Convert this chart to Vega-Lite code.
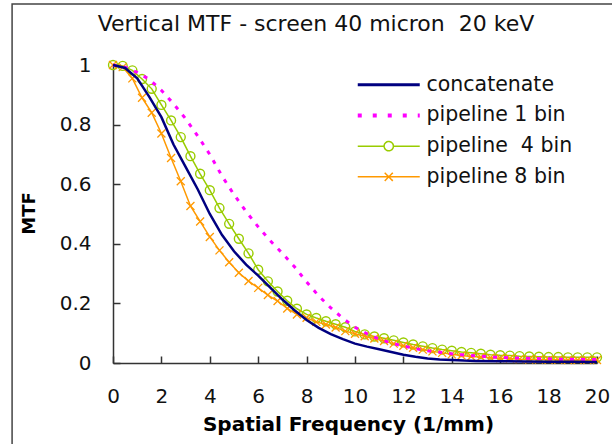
{
  "$schema": "https://vega.github.io/schema/vega-lite/v6.json",
  "width": 484,
  "height": 298,
  "autosize": {"type": "none"},
  "padding": {"left": 113, "top": 65, "right": 15, "bottom": 81},
  "background": "white",
  "config": {
    "view": {"stroke": null},
    "font": "DejaVu Sans",
    "axis": {
      "grid": false,
      "domainColor": "#333",
      "domainWidth": 1.5,
      "tickColor": "#333",
      "tickWidth": 1.5,
      "tickSize": -7,
      "labelFont": "DejaVu Sans",
      "labelFontSize": 20,
      "labelColor": "#111",
      "titleFont": "DejaVu Sans",
      "titleFontSize": 20,
      "titleFontWeight": "bold",
      "titleColor": "#000"
    }
  },
  "title": {
    "text": "Vertical MTF - screen 40 micron \u00a020 keV",
    "font": "DejaVu Sans",
    "fontSize": 22,
    "fontWeight": "normal",
    "color": "#111",
    "anchor": "middle",
    "frame": "group",
    "baseline": "alphabetic",
    "offset": 0,
    "dy": 50,
    "dx": -39
  },
  "data": {
    "values": [
      {"s": "concatenate", "x": 0, "y": 1.0},
      {"s": "concatenate", "x": 0.5, "y": 0.99},
      {"s": "concatenate", "x": 1.0, "y": 0.955},
      {"s": "concatenate", "x": 1.5, "y": 0.893},
      {"s": "concatenate", "x": 2.0, "y": 0.825},
      {"s": "concatenate", "x": 2.5, "y": 0.733},
      {"s": "concatenate", "x": 3.0, "y": 0.658},
      {"s": "concatenate", "x": 3.5, "y": 0.583},
      {"s": "concatenate", "x": 4.0, "y": 0.5},
      {"s": "concatenate", "x": 4.5, "y": 0.43},
      {"s": "concatenate", "x": 5.0, "y": 0.375},
      {"s": "concatenate", "x": 5.5, "y": 0.33},
      {"s": "concatenate", "x": 6.0, "y": 0.293},
      {"s": "concatenate", "x": 6.5, "y": 0.253},
      {"s": "concatenate", "x": 7.0, "y": 0.213},
      {"s": "concatenate", "x": 7.5, "y": 0.177},
      {"s": "concatenate", "x": 8.0, "y": 0.144},
      {"s": "concatenate", "x": 8.5, "y": 0.118},
      {"s": "concatenate", "x": 9.0, "y": 0.097},
      {"s": "concatenate", "x": 9.5, "y": 0.08},
      {"s": "concatenate", "x": 10.0, "y": 0.065},
      {"s": "concatenate", "x": 10.5, "y": 0.055},
      {"s": "concatenate", "x": 11.0, "y": 0.046},
      {"s": "concatenate", "x": 11.5, "y": 0.037},
      {"s": "concatenate", "x": 12.0, "y": 0.028},
      {"s": "concatenate", "x": 12.5, "y": 0.021},
      {"s": "concatenate", "x": 13.0, "y": 0.015},
      {"s": "concatenate", "x": 13.5, "y": 0.012},
      {"s": "concatenate", "x": 14.0, "y": 0.01},
      {"s": "concatenate", "x": 14.5, "y": 0.008},
      {"s": "concatenate", "x": 15.0, "y": 0.007},
      {"s": "concatenate", "x": 16.0, "y": 0.006},
      {"s": "concatenate", "x": 17.0, "y": 0.005},
      {"s": "concatenate", "x": 18.0, "y": 0.004},
      {"s": "concatenate", "x": 19.0, "y": 0.004},
      {"s": "concatenate", "x": 20.0, "y": 0.003},
      {"s": "pipeline 1 bin", "x": 0, "y": 1.0},
      {"s": "pipeline 1 bin", "x": 0.5, "y": 0.993},
      {"s": "pipeline 1 bin", "x": 1.0, "y": 0.975},
      {"s": "pipeline 1 bin", "x": 1.5, "y": 0.952},
      {"s": "pipeline 1 bin", "x": 2.0, "y": 0.915},
      {"s": "pipeline 1 bin", "x": 2.5, "y": 0.87},
      {"s": "pipeline 1 bin", "x": 3.0, "y": 0.82},
      {"s": "pipeline 1 bin", "x": 3.5, "y": 0.762},
      {"s": "pipeline 1 bin", "x": 4.0, "y": 0.7},
      {"s": "pipeline 1 bin", "x": 4.5, "y": 0.628},
      {"s": "pipeline 1 bin", "x": 5.0, "y": 0.565},
      {"s": "pipeline 1 bin", "x": 5.5, "y": 0.508},
      {"s": "pipeline 1 bin", "x": 6.0, "y": 0.457},
      {"s": "pipeline 1 bin", "x": 6.5, "y": 0.41},
      {"s": "pipeline 1 bin", "x": 7.0, "y": 0.368},
      {"s": "pipeline 1 bin", "x": 7.5, "y": 0.323},
      {"s": "pipeline 1 bin", "x": 8.0, "y": 0.272},
      {"s": "pipeline 1 bin", "x": 8.5, "y": 0.225},
      {"s": "pipeline 1 bin", "x": 9.0, "y": 0.185},
      {"s": "pipeline 1 bin", "x": 9.5, "y": 0.15},
      {"s": "pipeline 1 bin", "x": 10.0, "y": 0.12},
      {"s": "pipeline 1 bin", "x": 10.5, "y": 0.098},
      {"s": "pipeline 1 bin", "x": 11.0, "y": 0.08},
      {"s": "pipeline 1 bin", "x": 11.5, "y": 0.067},
      {"s": "pipeline 1 bin", "x": 12.0, "y": 0.057},
      {"s": "pipeline 1 bin", "x": 12.5, "y": 0.048},
      {"s": "pipeline 1 bin", "x": 13.0, "y": 0.041},
      {"s": "pipeline 1 bin", "x": 13.5, "y": 0.036},
      {"s": "pipeline 1 bin", "x": 14.0, "y": 0.031},
      {"s": "pipeline 1 bin", "x": 14.5, "y": 0.027},
      {"s": "pipeline 1 bin", "x": 15.0, "y": 0.024},
      {"s": "pipeline 1 bin", "x": 15.5, "y": 0.021},
      {"s": "pipeline 1 bin", "x": 16.0, "y": 0.019},
      {"s": "pipeline 1 bin", "x": 16.5, "y": 0.017},
      {"s": "pipeline 1 bin", "x": 17.0, "y": 0.016},
      {"s": "pipeline 1 bin", "x": 17.5, "y": 0.015},
      {"s": "pipeline 1 bin", "x": 18.0, "y": 0.014},
      {"s": "pipeline 1 bin", "x": 18.5, "y": 0.013},
      {"s": "pipeline 1 bin", "x": 19.0, "y": 0.013},
      {"s": "pipeline 1 bin", "x": 19.5, "y": 0.012},
      {"s": "pipeline 1 bin", "x": 20.0, "y": 0.012},
      {"s": "pipeline  4 bin", "x": 0, "y": 1.0},
      {"s": "pipeline  4 bin", "x": 0.4, "y": 0.997},
      {"s": "pipeline  4 bin", "x": 0.8, "y": 0.982},
      {"s": "pipeline  4 bin", "x": 1.2, "y": 0.953},
      {"s": "pipeline  4 bin", "x": 1.6, "y": 0.92},
      {"s": "pipeline  4 bin", "x": 2.0, "y": 0.866},
      {"s": "pipeline  4 bin", "x": 2.4, "y": 0.814},
      {"s": "pipeline  4 bin", "x": 2.8, "y": 0.758},
      {"s": "pipeline  4 bin", "x": 3.2, "y": 0.694},
      {"s": "pipeline  4 bin", "x": 3.6, "y": 0.635},
      {"s": "pipeline  4 bin", "x": 4.0, "y": 0.58},
      {"s": "pipeline  4 bin", "x": 4.4, "y": 0.52},
      {"s": "pipeline  4 bin", "x": 4.8, "y": 0.467},
      {"s": "pipeline  4 bin", "x": 5.2, "y": 0.417},
      {"s": "pipeline  4 bin", "x": 5.6, "y": 0.368},
      {"s": "pipeline  4 bin", "x": 6.0, "y": 0.313},
      {"s": "pipeline  4 bin", "x": 6.4, "y": 0.274},
      {"s": "pipeline  4 bin", "x": 6.8, "y": 0.24},
      {"s": "pipeline  4 bin", "x": 7.2, "y": 0.209},
      {"s": "pipeline  4 bin", "x": 7.6, "y": 0.182},
      {"s": "pipeline  4 bin", "x": 8.0, "y": 0.163},
      {"s": "pipeline  4 bin", "x": 8.4, "y": 0.151},
      {"s": "pipeline  4 bin", "x": 8.8, "y": 0.14},
      {"s": "pipeline  4 bin", "x": 9.2, "y": 0.13},
      {"s": "pipeline  4 bin", "x": 9.6, "y": 0.12},
      {"s": "pipeline  4 bin", "x": 10.0, "y": 0.106},
      {"s": "pipeline  4 bin", "x": 10.4, "y": 0.096},
      {"s": "pipeline  4 bin", "x": 10.8, "y": 0.089},
      {"s": "pipeline  4 bin", "x": 11.2, "y": 0.083},
      {"s": "pipeline  4 bin", "x": 11.6, "y": 0.076},
      {"s": "pipeline  4 bin", "x": 12.0, "y": 0.069},
      {"s": "pipeline  4 bin", "x": 12.4, "y": 0.062},
      {"s": "pipeline  4 bin", "x": 12.8, "y": 0.056},
      {"s": "pipeline  4 bin", "x": 13.2, "y": 0.05},
      {"s": "pipeline  4 bin", "x": 13.6, "y": 0.045},
      {"s": "pipeline  4 bin", "x": 14.0, "y": 0.041},
      {"s": "pipeline  4 bin", "x": 14.4, "y": 0.037},
      {"s": "pipeline  4 bin", "x": 14.8, "y": 0.034},
      {"s": "pipeline  4 bin", "x": 15.2, "y": 0.031},
      {"s": "pipeline  4 bin", "x": 15.6, "y": 0.028},
      {"s": "pipeline  4 bin", "x": 16.0, "y": 0.026},
      {"s": "pipeline  4 bin", "x": 16.4, "y": 0.025},
      {"s": "pipeline  4 bin", "x": 16.8, "y": 0.023},
      {"s": "pipeline  4 bin", "x": 17.2, "y": 0.022},
      {"s": "pipeline  4 bin", "x": 17.6, "y": 0.021},
      {"s": "pipeline  4 bin", "x": 18.0, "y": 0.02},
      {"s": "pipeline  4 bin", "x": 18.4, "y": 0.02},
      {"s": "pipeline  4 bin", "x": 18.8, "y": 0.019},
      {"s": "pipeline  4 bin", "x": 19.2, "y": 0.019},
      {"s": "pipeline  4 bin", "x": 19.6, "y": 0.019},
      {"s": "pipeline  4 bin", "x": 20.0, "y": 0.019},
      {"s": "pipeline 8 bin", "x": 0, "y": 1.0},
      {"s": "pipeline 8 bin", "x": 0.4, "y": 0.993},
      {"s": "pipeline 8 bin", "x": 0.8, "y": 0.955},
      {"s": "pipeline 8 bin", "x": 1.2, "y": 0.89},
      {"s": "pipeline 8 bin", "x": 1.6, "y": 0.84},
      {"s": "pipeline 8 bin", "x": 2.0, "y": 0.77},
      {"s": "pipeline 8 bin", "x": 2.4, "y": 0.688},
      {"s": "pipeline 8 bin", "x": 2.8, "y": 0.61},
      {"s": "pipeline 8 bin", "x": 3.2, "y": 0.527},
      {"s": "pipeline 8 bin", "x": 3.6, "y": 0.475},
      {"s": "pipeline 8 bin", "x": 4.0, "y": 0.423},
      {"s": "pipeline 8 bin", "x": 4.4, "y": 0.378},
      {"s": "pipeline 8 bin", "x": 4.8, "y": 0.338},
      {"s": "pipeline 8 bin", "x": 5.2, "y": 0.303},
      {"s": "pipeline 8 bin", "x": 5.6, "y": 0.275},
      {"s": "pipeline 8 bin", "x": 6.0, "y": 0.252},
      {"s": "pipeline 8 bin", "x": 6.4, "y": 0.228},
      {"s": "pipeline 8 bin", "x": 6.8, "y": 0.208},
      {"s": "pipeline 8 bin", "x": 7.2, "y": 0.183},
      {"s": "pipeline 8 bin", "x": 7.6, "y": 0.163},
      {"s": "pipeline 8 bin", "x": 8.0, "y": 0.152},
      {"s": "pipeline 8 bin", "x": 8.4, "y": 0.138},
      {"s": "pipeline 8 bin", "x": 8.8, "y": 0.129},
      {"s": "pipeline 8 bin", "x": 9.2, "y": 0.119},
      {"s": "pipeline 8 bin", "x": 9.6, "y": 0.107},
      {"s": "pipeline 8 bin", "x": 10.0, "y": 0.098},
      {"s": "pipeline 8 bin", "x": 10.4, "y": 0.09},
      {"s": "pipeline 8 bin", "x": 10.8, "y": 0.082},
      {"s": "pipeline 8 bin", "x": 11.2, "y": 0.074},
      {"s": "pipeline 8 bin", "x": 11.6, "y": 0.065},
      {"s": "pipeline 8 bin", "x": 12.0, "y": 0.058},
      {"s": "pipeline 8 bin", "x": 12.4, "y": 0.051},
      {"s": "pipeline 8 bin", "x": 12.8, "y": 0.045},
      {"s": "pipeline 8 bin", "x": 13.2, "y": 0.039},
      {"s": "pipeline 8 bin", "x": 13.6, "y": 0.034},
      {"s": "pipeline 8 bin", "x": 14.0, "y": 0.029},
      {"s": "pipeline 8 bin", "x": 14.4, "y": 0.025},
      {"s": "pipeline 8 bin", "x": 14.8, "y": 0.022},
      {"s": "pipeline 8 bin", "x": 15.2, "y": 0.02},
      {"s": "pipeline 8 bin", "x": 15.6, "y": 0.018},
      {"s": "pipeline 8 bin", "x": 16.0, "y": 0.016},
      {"s": "pipeline 8 bin", "x": 16.4, "y": 0.015},
      {"s": "pipeline 8 bin", "x": 16.8, "y": 0.013},
      {"s": "pipeline 8 bin", "x": 17.2, "y": 0.012},
      {"s": "pipeline 8 bin", "x": 17.6, "y": 0.012},
      {"s": "pipeline 8 bin", "x": 18.0, "y": 0.011},
      {"s": "pipeline 8 bin", "x": 18.4, "y": 0.011},
      {"s": "pipeline 8 bin", "x": 18.8, "y": 0.01},
      {"s": "pipeline 8 bin", "x": 19.2, "y": 0.01},
      {"s": "pipeline 8 bin", "x": 19.6, "y": 0.01},
      {"s": "pipeline 8 bin", "x": 20.0, "y": 0.01}
    ]
  },
  "encoding": {
    "x": {
      "field": "x",
      "type": "quantitative",
      "scale": {"domain": [0, 20], "nice": false, "zero": false},
      "axis": {
        "title": "Spatial Frequency (1/mm)",
        "values": [0, 2, 4, 6, 8, 10, 12, 14, 16, 18, 20],
        "labelPadding": 30,
        "labelFlush": false,
        "titleFontSize": 20,
        "titleX": 235,
        "titleY": 61,
        "titleBaseline": "middle",
        "titleAlign": "center"
      }
    },
    "y": {
      "field": "y",
      "type": "quantitative",
      "scale": {"domain": [0, 1], "nice": false},
      "axis": {
        "title": "MTF",
        "values": [0, 0.2, 0.4, 0.6, 0.8, 1],
        "format": "~g",
        "labelPadding": 29,
        "labelFlush": false,
        "titleFontSize": 18,
        "titleAngle": -90,
        "titleX": -84,
        "titleY": 148,
        "titleBaseline": "middle",
        "titleAlign": "center"
      }
    },
    "color": {
      "field": "s",
      "type": "nominal",
      "scale": {
        "domain": ["concatenate", "pipeline 1 bin", "pipeline  4 bin", "pipeline 8 bin"],
        "range": ["#000080", "#FF00FF", "#99CC00", "#FF9900"]
      },
      "legend": {
        "title": null,
        "orient": "none",
        "legendX": 245.5,
        "legendY": 9.5,
        "symbolSize": 3844,
        "symbolOffset": 20,
        "labelOffset": 27.5,
        "rowPadding": 9.7,
        "labelFont": "DejaVu Sans",
        "labelFontSize": 20.5,
        "labelColor": "#111",
        "labelLimit": 0,
        "labelExpr": "replace(datum.label, '  ', ' \u00a0')",
        "encode": {
          "symbols": {
            "update": {
              "shape": {"signal": "datum.value === 'pipeline  4 bin' ? 'M-1,0L-0.15,0M0.15,0L1,0M-0.15,0A0.15,0.15 0 1 0 0.15,0A0.15,0.15 0 1 0 -0.15,0' : datum.value === 'pipeline 8 bin' ? 'M-1,0L1,0M-0.13,-0.13L0.13,0.13M-0.13,0.13L0.13,-0.13' : 'M-1,0L1,0'"},
              "strokeDash": {"signal": "datum.value === 'pipeline 1 bin' ? [4, 11] : [1, 0]"},
              "strokeWidth": {"signal": "datum.value === 'concatenate' ? 3 : datum.value === 'pipeline 1 bin' ? 4 : 1.5"},
              "fill": {"value": "transparent"},
              "opacity": {"value": 1}
            }
          }
        }
      }
    }
  },
  "layer": [
    {
      "data": {"values": [{"x0": -4.17, "x1": 21, "y0": 1.205, "y1": -0.35}]},
      "mark": {"type": "rect", "filled": false, "stroke": "#444", "strokeWidth": 1.5, "clip": false},
      "encoding": {
        "x": {"field": "x0", "type": "quantitative"},
        "x2": {"field": "x1"},
        "y": {"field": "y0", "type": "quantitative"},
        "y2": {"field": "y1"},
        "color": {"value": "#444"}
      }
    },
    {
      "transform": [{"filter": "datum.s === 'pipeline  4 bin'"}],
      "mark": {"type": "line", "strokeWidth": 1.5}
    },
    {
      "transform": [{"filter": "datum.s === 'pipeline  4 bin'"}],
      "mark": {"type": "point", "shape": "circle", "filled": false, "size": 80, "strokeWidth": 1.4, "opacity": 1, "color": "#99CC00"},
      "encoding": {"color": null}
    },
    {
      "transform": [{"filter": "datum.s === 'pipeline 8 bin'"}],
      "mark": {"type": "line", "strokeWidth": 1.5}
    },
    {
      "transform": [{"filter": "datum.s === 'pipeline 8 bin'"}],
      "mark": {"type": "point", "shape": "M-1,-1L1,1M-1,1L1,-1", "filled": false, "size": 64, "strokeWidth": 1.3, "opacity": 1, "color": "#FF9900"},
      "encoding": {"color": null}
    },
    {
      "transform": [{"filter": "datum.s === 'pipeline 1 bin'"}],
      "mark": {"type": "line", "strokeWidth": 3, "strokeDash": [4, 7]}
    },
    {
      "transform": [{"filter": "datum.s === 'concatenate'"}],
      "mark": {"type": "line", "strokeWidth": 2.5}
    }
  ]
}
